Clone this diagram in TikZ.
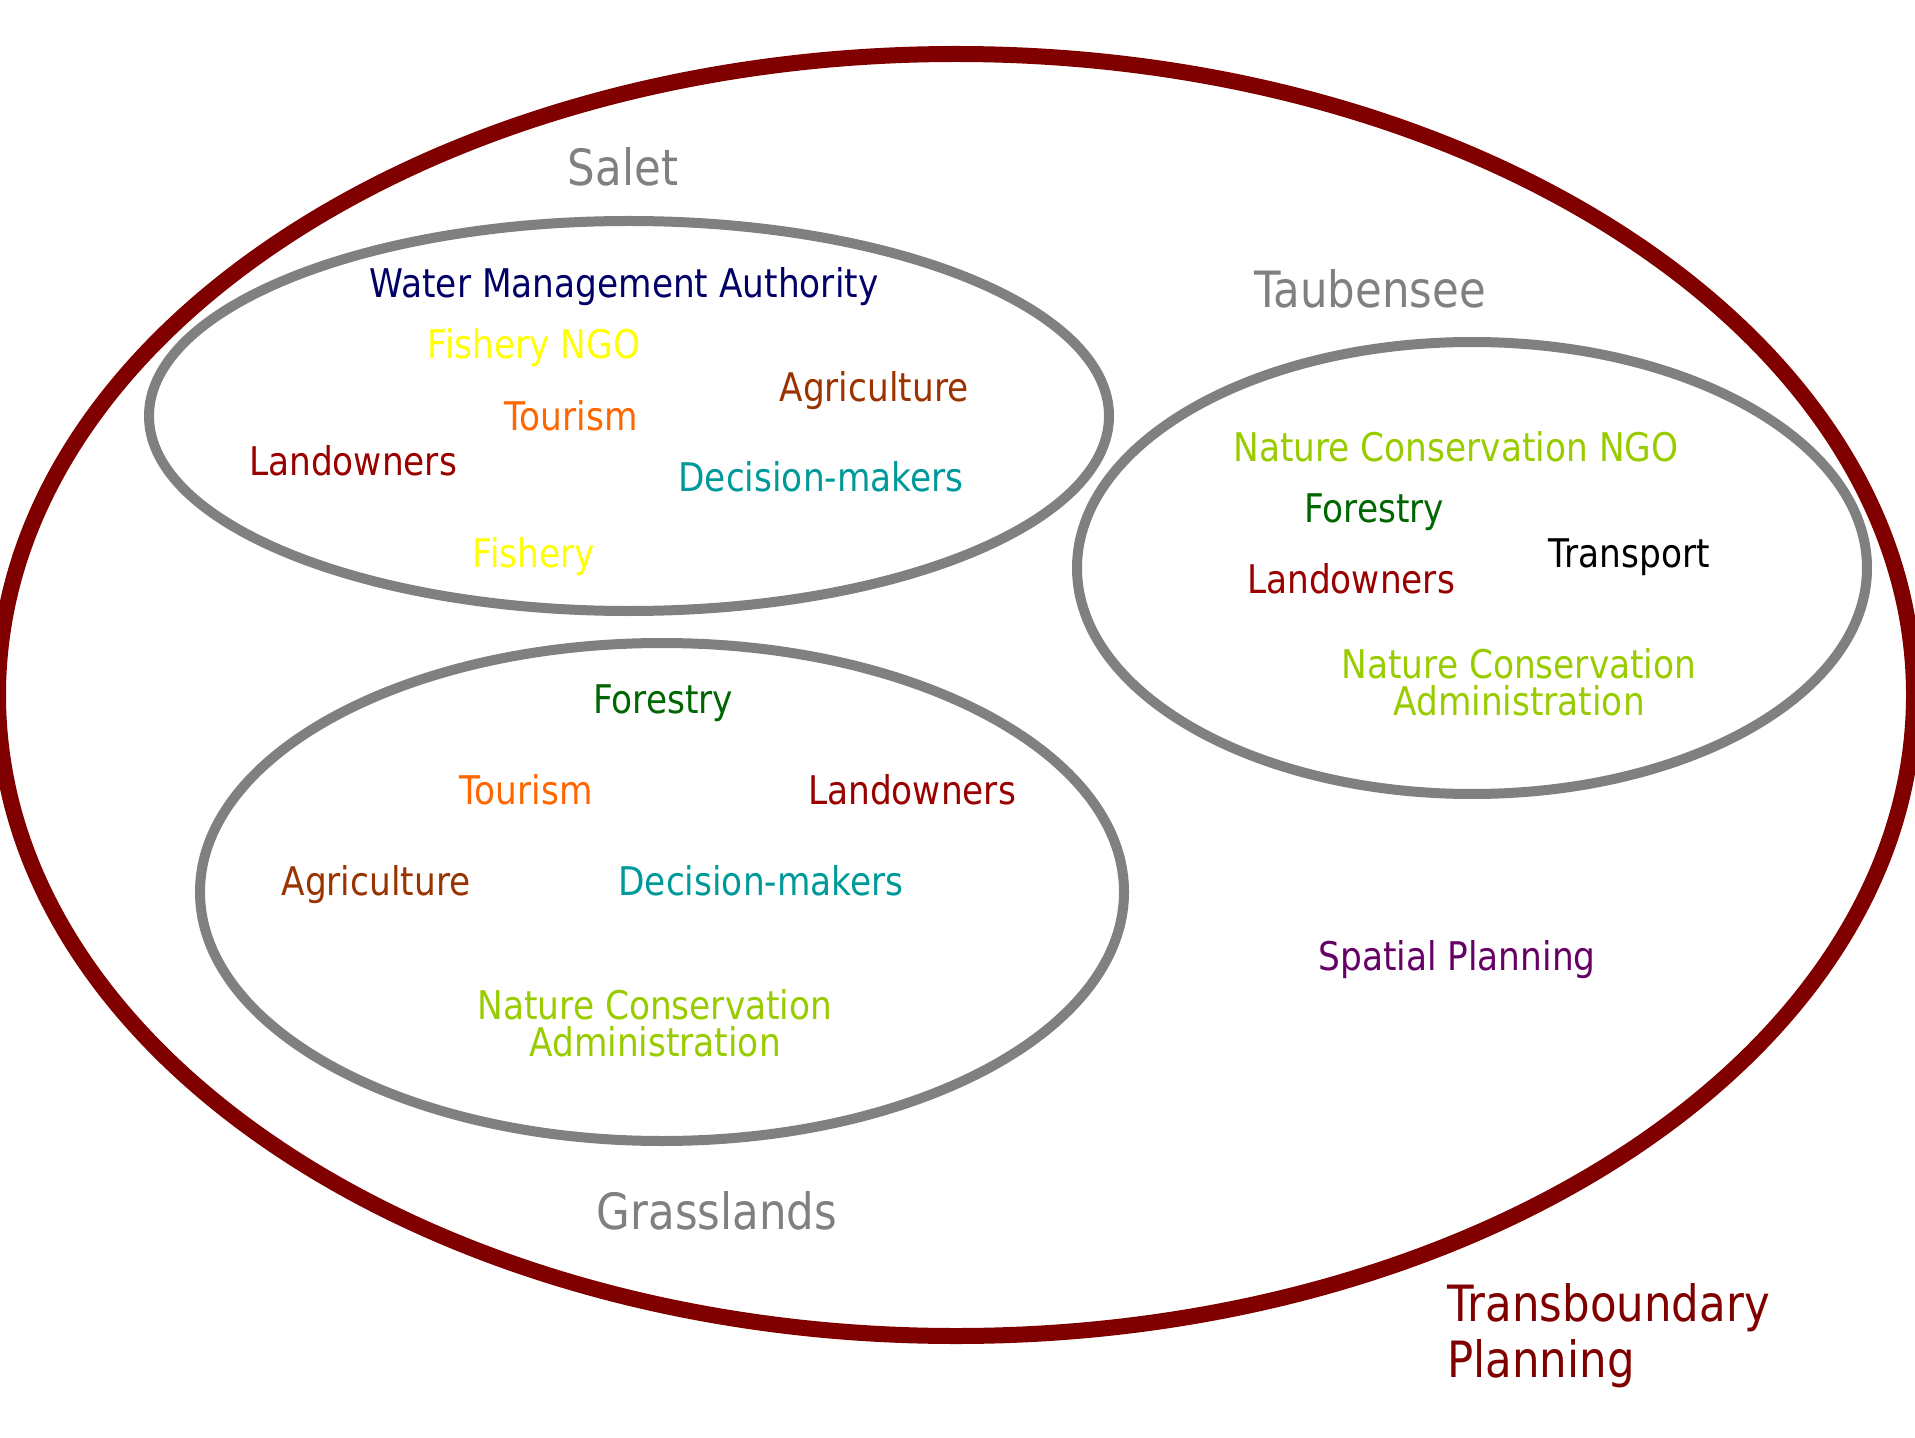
\documentclass[tikz,border=0pt]{standalone}
\usepackage{fontspec}
\setmainfont[FakeStretch=0.87]{DejaVu Sans}
\usepackage{tikz}
\definecolor{region}{HTML}{800000}
\definecolor{lake}{HTML}{808080}
\definecolor{water}{HTML}{000066}
\definecolor{fish}{HTML}{FFFF00}
\definecolor{agri}{HTML}{993300}
\definecolor{tour}{HTML}{FF6600}
\definecolor{land}{HTML}{990000}
\definecolor{decide}{HTML}{009999}
\definecolor{nature}{HTML}{99CC00}
\definecolor{forest}{HTML}{006600}
\definecolor{spatial}{HTML}{660066}

\begin{document}
\begin{tikzpicture}[x=0.5pt,y=-0.5pt,
        site/.style={font=\fontsize{25}{28}\selectfont,text=lake,inner sep=0pt,
                     text height=18.2pt,text depth=0pt},
        actor/.style={font=\fontsize{19.75}{18.3}\selectfont,align=center,inner sep=0pt,
                      text height=14.4pt,text depth=0pt},
        lakerim/.style={draw=lake,line width=5pt}]
            \useasboundingbox (0,0) rectangle (1915,1438);
            \draw[region,line width=8pt] (956,695) ellipse [x radius=958, y radius=641];
            \node[site,text=region,anchor=west,align=left] (transboundary) at (1447,1359) {Transboundary\\Planning};
            \node[actor,text=spatial] (spatial) at (1457,956) {Spatial Planning};
            \begin{scope}
                \draw[lakerim] (629,416) ellipse [x radius=480, y radius=195];
                \node[site] (salet) at (623,167) {Salet};
                \node[actor,text=water] (s-water) at (624,283) {Water Management Authority};
                \node[actor,text=fish] (s-ngo) at (534,344) {Fishery NGO};
                \node[actor,text=agri] (s-agri) at (874,387) {Agriculture};
                \node[actor,text=tour] (s-tour) at (571,416) {Tourism};
                \node[actor,text=land] (s-land) at (353,461) {Landowners};
                \node[actor,text=decide] (s-decide) at (821,477) {Decision-makers};
                \node[actor,text=fish] (s-fish) at (534,553) {Fishery};
            \end{scope}
            \begin{scope}
                \draw[lakerim] (1472,568) ellipse [x radius=395, y radius=226];
                \node[site] (taubensee) at (1370,289) {Taubensee};
                \node[actor,text=nature] (t-ngo) at (1456,447) {Nature Conservation NGO};
                \node[actor,text=forest] (t-forest) at (1374,508) {Forestry};
                \node[actor,text=black] (t-transport) at (1629,553) {Transport};
                \node[actor,text=land] (t-land) at (1351,579) {Landowners};
                \node[actor,text=nature] (t-admin) at (1519,701) {Nature Conservation\\Administration};
            \end{scope}
            \begin{scope}
                \draw[lakerim] (662,892) ellipse [x radius=462, y radius=249];
                \node[site] (grasslands) at (717,1211) {Grasslands};
                \node[actor,text=forest] (g-forest) at (663,699) {Forestry};
                \node[actor,text=tour] (g-tour) at (526,790) {Tourism};
                \node[actor,text=land] (g-land) at (912,790) {Landowners};
                \node[actor,text=agri] (g-agri) at (376,881) {Agriculture};
                \node[actor,text=decide] (g-decide) at (761,881) {Decision-makers};
                \node[actor,text=nature] (g-admin) at (655,1042) {Nature Conservation\\Administration};
            \end{scope}
        \end{tikzpicture}
\end{document}
